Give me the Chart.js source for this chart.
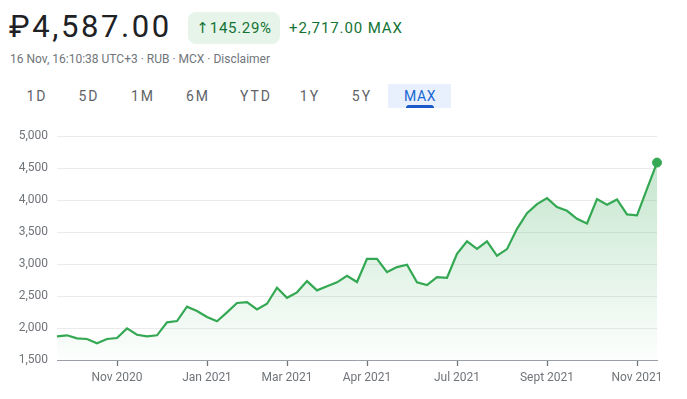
<!DOCTYPE html>
<html>
<head>
<meta charset="utf-8">
<script src="https://cdn.jsdelivr.net/npm/chart.js@4.4.0/dist/chart.umd.min.js"></script>
<style>
    body {
        margin: 0;
        background: #fff;
        font-family: Roboto, Arial, sans-serif;
        width: 687px;
        height: 399px;
        overflow: hidden;
        position: relative;
    }
    .price {
        position: absolute;
        left: 9px;
        top: 7px;
        font-size: 31px;
        letter-spacing: 2.6px;
        color: #202124;
        line-height: 40px;
    }
    .badge {
        position: absolute;
        left: 188px;
        top: 12px;
        width: 92px;
        height: 32px;
        border-radius: 8px;
        background: #e6f4ea;
        color: #137333;
        font-size: 15px;
        letter-spacing: 0.7px;
        line-height: 32px;
        text-align: center;
    }
    .badge .arrow {
        font-family: "DejaVu Sans", sans-serif;
        font-size: 15px;
        letter-spacing: 0;
        margin-right: 1px;
    }
    .change {
        position: absolute;
        left: 289px;
        top: 12px;
        color: #137333;
        font-size: 15px;
        letter-spacing: 0.9px;
        line-height: 32px;
    }
    .sub {
        position: absolute;
        left: 10px;
        top: 51px;
        font-size: 12px;
        color: #70757a;
        line-height: 16px;
    }
    .tab {
        position: absolute;
        top: 86px;
        font-size: 14px;
        letter-spacing: 2px;
        color: #5f6368;
        line-height: 20px;
        transform: translateX(-50%);
        white-space: nowrap;
    }
    .tab-active {
        position: absolute;
        left: 388px;
        top: 84px;
        width: 63px;
        height: 24px;
        background: #e8f0fe;
    }
    .tab-active .bar {
        position: absolute;
        left: 18px;
        top: 21px;
        width: 28px;
        height: 3px;
        border-radius: 3px 3px 0 0;
        background: #1a57c9;
    }
    #wrap {
        position: absolute;
        left: 0;
        top: 120px;
        width: 687px;
        height: 279px;
    }
</style>
</head>
<body>
<div class="price">₽4,587.00</div>
<div class="badge"><span class="arrow">↑</span>145.29%</div>
<div class="change">+2,717.00 MAX</div>
<div class="sub">16 Nov, 16:10:38 UTC+3 · RUB · MCX · Disclaimer</div>
<div class="tab-active"><div class="bar"></div></div>
<div id="tabs"></div>
<div id="wrap"><canvas id="priceChart"></canvas></div>

<script>
const ranges = ["1D", "5D", "1M", "6M", "YTD", "1Y", "5Y", "MAX"];
const rangeCenters = [37, 89, 143, 198, 256, 310, 362, 420];

// weekly closes
const prices = [1870, 1886, 1839, 1828, 1761, 1828, 1844, 1995, 1895, 1870,
    1886, 2089, 2109, 2333, 2266, 2172, 2105, 2245, 2391, 2406,
    2292, 2380, 2630, 2473, 2558, 2734, 2589, 2652, 2714, 2817,
    2719, 3083, 3083, 2875, 2953, 2989, 2714, 2672, 2797, 2786,
    3161, 3355, 3239, 3355, 3130, 3234, 3552, 3797, 3937, 4031,
    3891, 3833, 3708, 3636, 4016, 3927, 4011, 3777, 3761, 4175,
    4587];
const tickPositions = [6, 15, 23, 31, 40, 49, 58];
const tickLabels = ["Nov 2020", "Jan 2021", "Mar 2021", "Apr 2021", "Jul 2021", "Sept 2021", "Nov 2021"];
const yTicks = [1500, 2000, 2500, 3000, 3500, 4000, 4500, 5000];

const tabs = document.getElementById("tabs");
ranges.forEach((r, i) => {
    const el = document.createElement("div");
    el.className = "tab";
    el.style.left = rangeCenters[i] + "px";
    el.innerText = r;
    if (r === "MAX") {
        el.style.color = "#1967d2";
        el.style.letterSpacing = "0.6px";
    }
    tabs.appendChild(el);
});

const green = "#34a853";

const ctx = document.getElementById("priceChart").getContext("2d");
const priceChart = new Chart(ctx, {
    type: "line",
    data: {
        datasets: [
            {
                data: prices.map((v, i) => ({ x: i, y: v })),
                borderColor: green,
                borderWidth: 2.2,
                tension: 0,
                fill: "start",
                clip: false,
                backgroundColor: (c) => {
                    const area = c.chart.chartArea;
                    if (!area) return "rgba(52,168,83,0.15)";
                    const g = c.chart.ctx.createLinearGradient(0, area.top, 0, area.bottom);
                    g.addColorStop(0, "rgba(52,168,83,0.32)");
                    g.addColorStop(1, "rgba(52,168,83,0.01)");
                    return g;
                },
                pointRadius: (c) => (c.dataIndex === prices.length - 1 ? 4.5 : 0),
                pointBackgroundColor: green,
                pointBorderColor: green,
                pointBorderWidth: 1,
                pointHoverRadius: 0,
            },
        ],
    },
    options: {
        responsive: true,
        maintainAspectRatio: false,
        animation: false,
        events: [],
        layout: {
            padding: { top: 16, right: 30, left: 0, bottom: 0 },
        },
        plugins: {
            legend: { display: false },
            tooltip: { enabled: false },
        },
        scales: {
            x: {
                type: "linear",
                min: 0,
                max: prices.length - 1,
                afterFit: (s) => { s.height = 39; },
                afterBuildTicks: (s) => {
                    s.ticks = tickPositions.map((v) => ({ value: v }));
                },
                border: { display: true, color: "#9aa0a6", width: 1 },
                grid: {
                    drawOnChartArea: false,
                    drawTicks: true,
                    tickLength: 6,
                    tickColor: "#70757a",
                    tickWidth: 1.3,
                },
                ticks: {
                    autoSkip: false,
                    maxRotation: 0,
                    padding: 5,
                    color: "#70757a",
                    font: { family: "Roboto", size: 12 },
                    callback: (v) => {
                        const k = tickPositions.indexOf(v);
                        return k >= 0 ? tickLabels[k] : "";
                    },
                },
            },
            y: {
                min: yTicks[0],
                max: yTicks[yTicks.length - 1],
                afterFit: (s) => { s.width = 57; },
                afterBuildTicks: (s) => {
                    s.ticks = yTicks.map((v) => ({ value: v }));
                },
                border: { display: false },
                grid: {
                    drawTicks: false,
                    color: "#ebebeb",
                    lineWidth: 1,
                },
                ticks: {
                    padding: 9,
                    color: "#70757a",
                    font: { family: "Roboto", size: 12 },
                    callback: (v) => v.toLocaleString("en-US"),
                },
            },
        },
    },
});
</script>
</body>
</html>
